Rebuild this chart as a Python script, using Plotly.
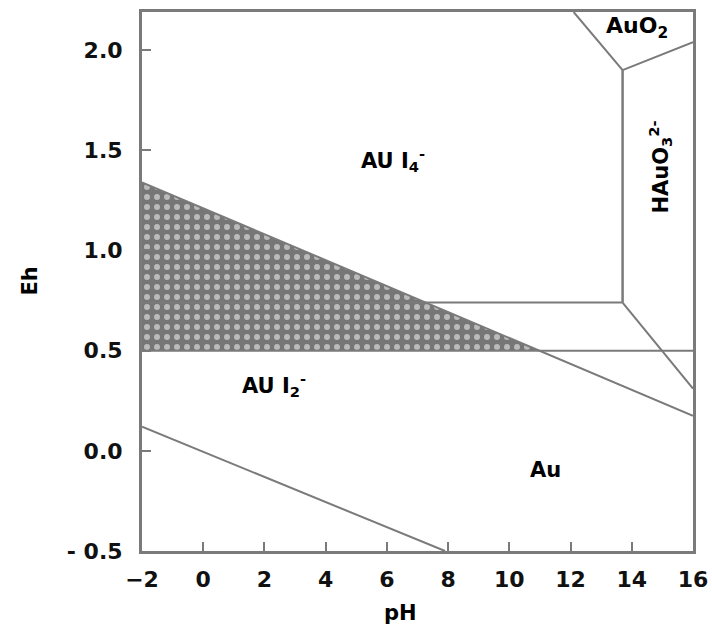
import plotly.graph_objects as go

# --- data ---
ph_ticks = [-2, 0, 2, 4, 6, 8, 10, 12, 14, 16]
eh_ticks = [-0.5, 0.0, 0.5, 1.0, 1.5, 2.0]
eh_ticktext = ["- 0.5", "0.0", "0.5", "1.0", "1.5", "2.0"]

# upper sloping line (AuI4- / AuI2- / Au)
upper_ph = [-2, 16]
upper_eh = [1.34, 0.175]
# lower sloping line
lower_ph = [-2, 7.9]
lower_eh = [0.12, -0.5]
# horizontal line at Eh 0.5
h05_ph = [-2, 16]
h05_eh = [0.5, 0.5]
# horizontal line at Eh 0.74
h074_ph = [-2, 13.7]
h074_eh = [0.74, 0.74]
# vertical AuI4- / HAuO3 2-
vert_ph = [13.7, 13.7]
vert_eh = [0.74, 1.9]
# AuO2 boundaries
auo2_left_ph = [13.7, 12.1]
auo2_left_eh = [1.9, 2.19]
auo2_right_ph = [13.7, 16]
auo2_right_eh = [1.9, 2.04]
# HAuO3 2- / Au boundary
hauo3_ph = [13.7, 16]
hauo3_eh = [0.74, 0.31]

labels_ph = [5.1, 1.2, 11.17, 13.1, 14.93]
labels_eh = [1.45, 0.33, -0.095, 2.115, 1.415]
labels_text = ["AU I<sub>4</sub><sup>-</sup>", "AU I<sub>2</sub><sup>-</sup>", "Au",
               "AuO<sub>2</sub>", "HAuO<sub>3</sub><sup>2-</sup>"]
labels_angle = [0, 0, 0, 0, -90]
labels_xanchor = ["left", "left", "center", "left", "center"]
labels_size = [21, 21, 21, 22, 21]

LINE = "#7a7a7a"
FONT = "DejaVu Sans, sans-serif"

# shaded triangle: between upper line and Eh = 0.5
slope = (upper_eh[1] - upper_eh[0]) / (upper_ph[1] - upper_ph[0])
x_tip = upper_ph[0] + (h05_eh[0] - upper_eh[0]) / slope
shade_ph = [upper_ph[0], x_tip, upper_ph[0], upper_ph[0]]
shade_eh = [upper_eh[0], h05_eh[0], h05_eh[0], upper_eh[0]]

fig = go.Figure()
fig.add_trace(go.Scatter(
    x=shade_ph, y=shade_eh, mode="lines", fill="toself",
    fillcolor="#7a7a7a", line=dict(color="#7a7a7a", width=0),
    fillpattern=dict(shape=".", bgcolor="#767676", fgcolor="white",
                     size=10, solidity=0.28),
    hoverinfo="skip", showlegend=False))

def seg(xs, ys, w=2):
    fig.add_trace(go.Scatter(x=xs, y=ys, mode="lines",
                             line=dict(color=LINE, width=w),
                             hoverinfo="skip", showlegend=False))

seg(upper_ph, upper_eh)
seg(lower_ph, lower_eh)
seg(h05_ph, h05_eh)
seg(h074_ph, h074_eh)
seg(vert_ph, vert_eh, 2.5)
seg(auo2_left_ph, auo2_left_eh)
seg(auo2_right_ph, auo2_right_eh)
seg(hauo3_ph, hauo3_eh)

for x, y, t, a, xa, s in zip(labels_ph, labels_eh, labels_text, labels_angle,
                             labels_xanchor, labels_size):
    fig.add_annotation(x=x, y=y, text=t, showarrow=False, textangle=a, xanchor=xa,
                       font=dict(family=FONT, size=s, color="black", weight="bold"))

# axis titles
fig.add_annotation(xref="paper", yref="paper", x=0.47, y=-0.115, text="pH",
                   showarrow=False, font=dict(family=FONT, size=21, color="black"),
                   xanchor="center", yanchor="middle")
fig.add_annotation(xref="paper", yref="paper", x=-0.205, y=0.5, text="Eh",
                   showarrow=False, textangle=-90,
                   font=dict(family=FONT, size=21, color="black"),
                   xanchor="center", yanchor="middle")

fig.update_layout(
    width=712, height=631,
    margin=dict(l=142, r=19, t=12, b=80),
    plot_bgcolor="white", paper_bgcolor="white",
    font=dict(family=FONT, size=22, color="#111", weight="bold"),
    xaxis=dict(range=[-2, 16], tickvals=ph_ticks, ticks="inside", ticklen=9,
               tickcolor=LINE, tickwidth=2, showgrid=False, zeroline=False,
               showline=True, linecolor=LINE, linewidth=3, mirror=True,
               ticklabelstandoff=7, ticklabeloverflow="allow", automargin=False),
    yaxis=dict(range=[-0.5, 2.19], tickvals=eh_ticks, ticktext=eh_ticktext,
               ticks="inside", ticklen=9, tickcolor=LINE, tickwidth=2,
               showgrid=False, zeroline=False, showline=True, linecolor=LINE,
               linewidth=3, mirror=True, ticklabelstandoff=12, automargin=False),
)

fig.write_html(
    "out.html",
    config={"displayModeBar": False, "staticPlot": True},
    post_script="document.body.style.margin='0';document.body.style.overflow='hidden';",
)
